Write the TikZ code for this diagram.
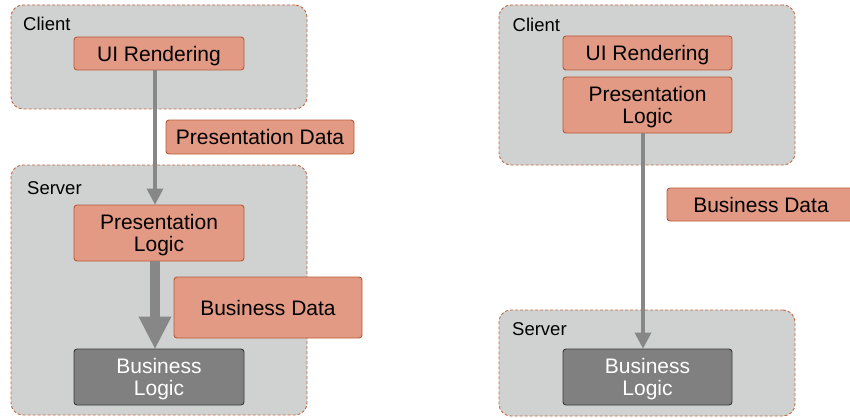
\documentclass[tikz,border=0pt]{standalone}
\usepackage{fontspec}
\setmainfont{Liberation Sans}
\usetikzlibrary{arrows.meta}
\definecolor{tierfill}{HTML}{D0D1D1}
\definecolor{tierline}{HTML}{C06A45}
\definecolor{partfill}{HTML}{E39A84}
\definecolor{partline}{HTML}{B85A35}
\definecolor{flowgray}{HTML}{878787}
\definecolor{corefill}{HTML}{808080}
\definecolor{coreline}{HTML}{3A3A3A}
\tikzset{
  tier/.style={draw=tierline, fill=tierfill, line width=0.9pt,
    dash pattern=on 3pt off 2pt, rounded corners=12pt,
    minimum width=296pt, inner sep=0pt},
  tierlabel/.style={anchor=base west, inner sep=0pt,
    font=\fontsize{18.5}{20}\selectfont},
  part/.style={draw=partline, fill=partfill, line width=0.9pt,
    rounded corners=3pt, inner sep=0pt, align=center, text depth=0pt,
    font=\fontsize{21}{22}\selectfont},
  core/.style={part, draw=coreline, fill=corefill, text=white},
  flow/.style={draw=flowgray, line width=4pt,
    -{Triangle[length=16pt,width=17pt,line width=0pt]}},
  bigflow/.style={draw=flowgray, line width=10pt,
    -{Triangle[length=32pt,width=33pt,line width=0pt]}}
}
\begin{document}
\begin{tikzpicture}[x=1pt,y=-1pt]
\useasboundingbox (0,0) rectangle (850,417);

% ---- thin client: rendering on the client, logic on the server ----
\node[tier, minimum height=104pt] (clientL) at (159,57) {};
\node[tier, minimum height=250pt] (serverL) at (159,290) {};
\node[tierlabel] (clientLlab) at (23,31) {Client};
\node[tierlabel] (serverLlab) at (27,194) {Server};

\node[part, minimum width=170pt, minimum height=33pt] (uiL) at (159,53.5) {UI Rendering};
\node[part, minimum width=188pt, minimum height=34pt] (pdata) at (260,137) {Presentation Data};
\node[part, minimum width=170pt, minimum height=56pt] (plL) at (159,233) {Presentation\\Logic};
\node[part, minimum width=188pt, minimum height=61pt] (bdataL) at (268,307.5) {Business Data};
\node[core, minimum width=170pt, minimum height=56pt] (blL) at (159,377) {Business\\Logic};

\coordinate (axL) at (155,0);
\draw[flow] (uiL.south -| axL) -- (plL.north -| axL);
\draw[bigflow] (plL.south -| axL) -- (blL.north -| axL);

% ---- rich client: rendering and presentation logic on the client ----
\node[tier, minimum height=160pt] (clientR) at (647,85) {};
\node[tier, minimum height=106pt] (serverR) at (647,363) {};
\node[tierlabel] (clientRlab) at (512.5,32) {Client};
\node[tierlabel] (serverRlab) at (512,335) {Server};

\node[part, minimum width=169pt, minimum height=34pt] (uiR) at (647.5,53) {UI Rendering};
\node[part, minimum width=169pt, minimum height=56pt] (plR) at (647.5,105) {Presentation\\Logic};
\node[part, minimum width=188pt, minimum height=33pt] (bdataR) at (761,204.5) {Business Data};
\node[core, minimum width=169pt, minimum height=56pt] (blR) at (647.5,377) {Business\\Logic};

\coordinate (axR) at (643,0);
\draw[flow] (plR.south -| axR) -- (blR.north -| axR);
\end{tikzpicture}
\end{document}
